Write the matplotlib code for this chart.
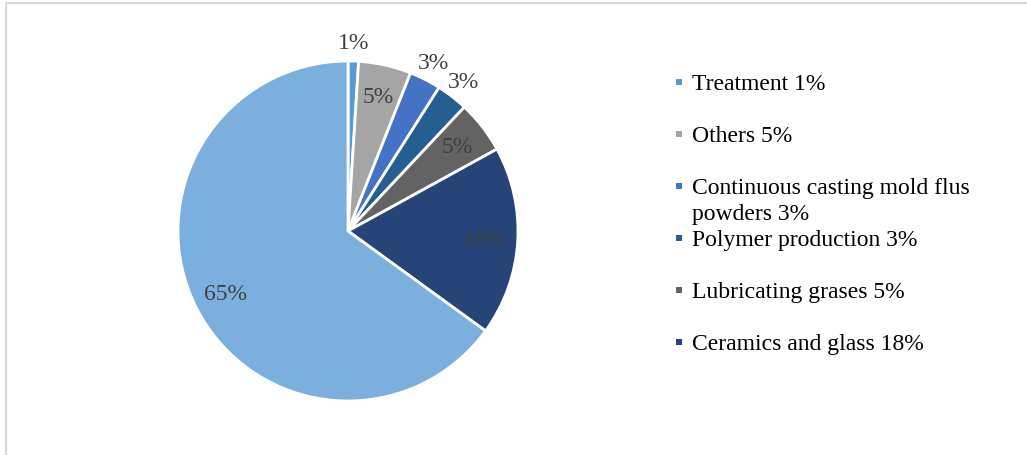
import numpy as np
import matplotlib.pyplot as plt
from matplotlib.patches import Rectangle
from matplotlib.lines import Line2D

# slices clockwise from 12 o'clock
labels = ['Treatment', 'Others', 'Continuous casting mold flus\npowders',
          'Polymer production', 'Lubricating grases', 'Ceramics and glass',
          'Batteries']
values = [1, 5, 3, 3, 5, 18, 65]
colors = ['#5B9BD5', '#A5A5A5', '#4472C4', '#255E91', '#636363', '#264478',
          '#7BAFDE']
outside = [0, 2, 3]     # slices whose label sits outside the pie
n_legend = 6            # last entry is cut off in the original

plt.rcParams['font.family'] = ['Liberation Serif', 'DejaVu Serif']
W, H = 1027, 456
fig = plt.figure(figsize=(W / 100, H / 100), dpi=100)

# pie centred at (348, 232) px, radius 170 px
cx, cy, r = 348, 232, 170
ax = fig.add_axes([(cx - r) / W, (H - cy - r) / H, 2 * r / W, 2 * r / H])
wedges, texts, autotexts = ax.pie(
    values, colors=colors, startangle=90, counterclock=False,
    autopct='%1.0f%%', pctdistance=0.81,
    wedgeprops=dict(edgecolor='white', linewidth=2),
    textprops=dict(color='#404040', fontsize=17))
ax.set_xlim(-1, 1)
ax.set_ylim(-1, 1)
ax.set_aspect('equal')

for i in outside:
    w = wedges[i]
    ang = np.deg2rad((w.theta1 + w.theta2) / 2)
    autotexts[i].set_position((1.11 * np.cos(ang), 1.11 * np.sin(ang)))

# legend, drawn by hand to keep the fixed slot spacing of the original
for i in range(n_legend):
    yc = 83 + 52 * i
    fig.add_artist(Rectangle((676 / W, (H - yc - 3) / H), 6 / W, 6 / H,
                             transform=fig.transFigure, facecolor=colors[i],
                             edgecolor='none'))
    lines = ('%s %d%%' % (labels[i], values[i])).split('\n')
    for k, line in enumerate(lines):
        fig.text(692 / W, (H - yc - 7 - 26 * k) / H, line,
                 fontsize=17, color='black', va='baseline', ha='left')

# light frame
fig.add_artist(Line2D([6 / W, 1], [1 - 4 / H, 1 - 4 / H],
                      transform=fig.transFigure, color='#D9D9D9', lw=1.5))
fig.add_artist(Line2D([6 / W, 6 / W], [0, 1 - 4 / H],
                      transform=fig.transFigure, color='#D9D9D9', lw=1.5))

fig.savefig('out.png', dpi=100)
